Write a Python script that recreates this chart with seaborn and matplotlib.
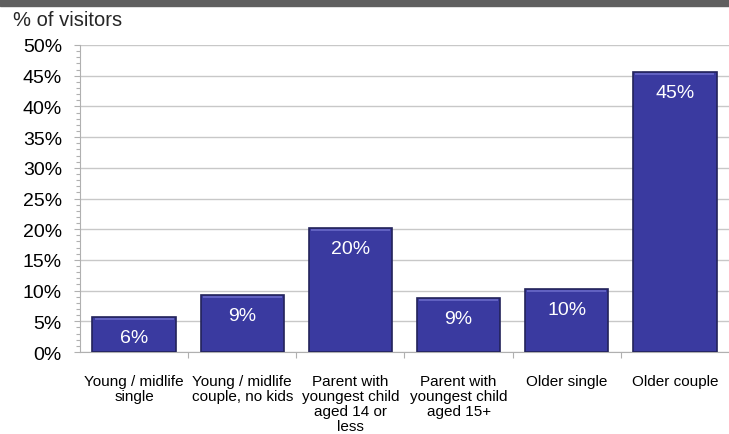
import matplotlib
matplotlib.use("Agg")
import matplotlib.pyplot as plt
import seaborn as sns
import pandas as pd
import numpy as np
from matplotlib.ticker import MultipleLocator, FixedLocator

categories = ["Young / midlife\nsingle", "Young / midlife\ncouple, no kids",
              "Parent with\nyoungest child\naged 14 or\nless",
              "Parent with\nyoungest child\naged 15+", "Older single", "Older couple"]
values = [5.7, 9.3, 20.2, 8.8, 10.3, 45.6]
value_labels = ["6%", "9%", "20%", "9%", "10%", "45%"]
y_ticks = [0, 5, 10, 15, 20, 25, 30, 35, 40, 45, 50]

sns.set_theme(style="white")
plt.rcParams['font.family'] = ['Liberation Sans', 'DejaVu Sans']

df = pd.DataFrame({"cat": categories, "val": values})

fig = plt.figure(figsize=(7.29, 4.35), dpi=100)
ax = fig.add_axes([80/729, 1 - 353/435, 1 - 80/729, (353 - 46)/435])

sns.barplot(data=df, x="cat", y="val", ax=ax, color="#3a3aa0", saturation=1,
            width=0.77, edgecolor="#23235a", linewidth=1.2, zorder=3)

# subtle highlight strip near top of each bar
for p in ax.patches:
    x0, w, h = p.get_x(), p.get_width(), p.get_height()
    ax.plot([x0 + 0.02, x0 + w - 0.02], [h - 0.35, h - 0.35], color="#6a6ac8",
            lw=1.2, zorder=4, solid_capstyle="butt")

for p, lab in zip(ax.patches, value_labels):
    ax.annotate(lab, (p.get_x() + p.get_width() / 2, p.get_height()),
                xytext=(0, -8.5), textcoords="offset points", ha="center", va="top",
                color="white", fontsize=14, zorder=5)

ax.set_ylim(0, 50)
ax.set_xlim(-0.5, len(categories) - 0.5)
ax.yaxis.set_major_locator(FixedLocator(y_ticks))
ax.yaxis.set_minor_locator(MultipleLocator(1))
ax.set_yticklabels([f"{t}%" for t in y_ticks], fontsize=14)
ax.grid(axis="y", color="#c8c8c8", lw=1, zorder=0)
ax.set_axisbelow(True)

ax.tick_params(axis="y", which="major", left=True, length=4.5, width=0.8, color="#b0b0b0", pad=8.5)
ax.tick_params(axis="y", which="minor", left=True, length=3, width=0.8, color="#b0b0b0")
ax.xaxis.set_minor_locator(FixedLocator(np.arange(0.5, len(categories) - 0.5, 1)))
ax.tick_params(axis="x", which="major", length=0, pad=15.5, labelsize=11)
ax.tick_params(axis="x", which="minor", bottom=True, length=4, width=0.8, color="#b0b0b0")
for lbl in ax.get_xticklabels():
    lbl.set_linespacing(1.12)
    lbl.set_color("black")
for lbl in ax.get_yticklabels():
    lbl.set_color("black")

ax.set_xlabel("")
ax.set_ylabel("")
for s in ["top", "right"]:
    ax.spines[s].set_visible(False)
ax.spines["left"].set_color("#b0b0b0")
ax.spines["bottom"].set_color("#b0b0b0")
ax.spines["left"].set_linewidth(0.8)
ax.spines["bottom"].set_linewidth(0.8)

# top band and title
fig.patches.append(plt.Rectangle((0, 1 - 7/435), 1, 7/435, transform=fig.transFigure,
                                 color="#5f5f5f", zorder=10))
fig.text(13/729, 1 - 21/435, "% of visitors", fontsize=14.5, va="center", ha="left")

fig.savefig("out.png", dpi=100)
